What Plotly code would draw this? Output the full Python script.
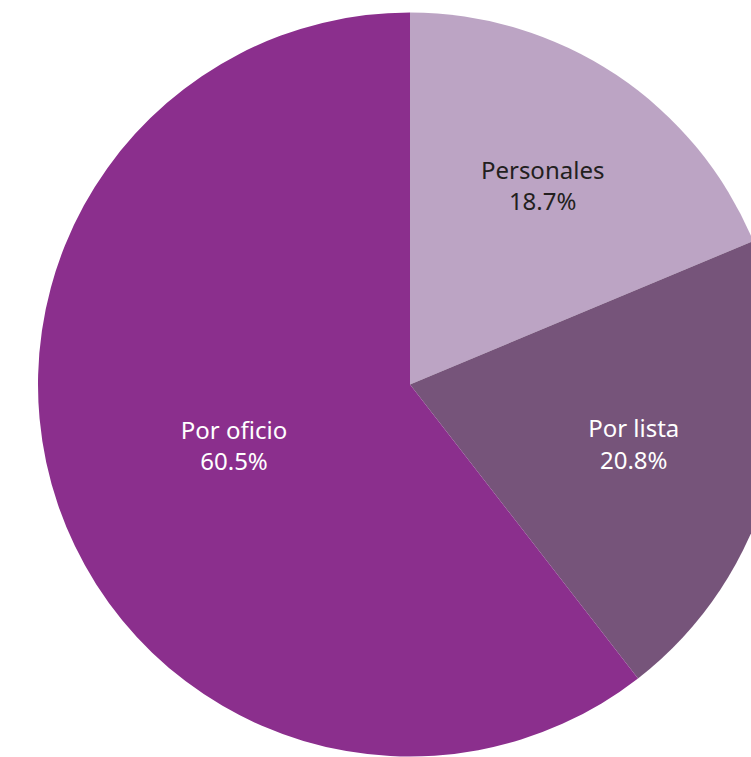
import plotly.graph_objects as go

# Data
labels = ["Personales", "Por lista", "Por oficio"]
values = [18.7, 20.8, 60.5]
colors = ["#BCA4C4", "#76547A", "#8B2F8D"]
text_colors = ["#231F20", "#FFFFFF", "#FFFFFF"]

W, H = 800, 757
cx, r, top = 410, 372, 12

fig = go.Figure(
    go.Pie(
        labels=labels,
        values=values,
        sort=False,
        direction="clockwise",
        rotation=0,
        marker=dict(colors=colors, line=dict(width=0)),
        texttemplate="%{label}<br>%{value:.1f}%",
        textposition="inside",
        insidetextorientation="horizontal",
        insidetextfont=dict(color=text_colors, size=24, family="Noto Sans"),
        hoverinfo="label+percent",
        domain=dict(x=[(cx - r) / W, (cx + r) / W], y=[0, 1]),
    )
)

fig.update_layout(
    width=W,
    height=H,
    margin=dict(l=0, r=0, t=top, b=0),
    showlegend=False,
    paper_bgcolor="white",
    plot_bgcolor="white",
)

fig.write_html(
    "out.html",
    config={"displayModeBar": False},
    post_script="document.body.style.margin='0';document.body.style.overflow='hidden';",
)
